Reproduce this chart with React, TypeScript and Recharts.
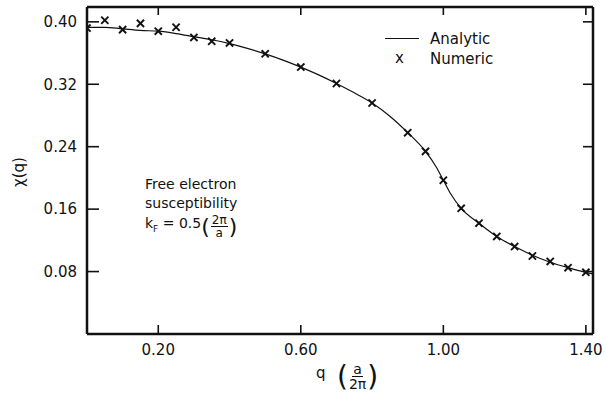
import React from 'react';
import { ComposedChart, Line, Scatter, XAxis, YAxis } from 'recharts';

// analytic curve
const analyticQ = [0, 0.05, 0.1, 0.15, 0.2, 0.25, 0.3, 0.35, 0.4, 0.45, 0.5, 0.55, 0.6, 0.65, 0.7, 0.75, 0.8, 0.85, 0.9, 0.95, 0.98, 1.0, 1.02, 1.05, 1.1, 1.15, 1.2, 1.25, 1.3, 1.35, 1.4, 1.42];
const analyticChi = [0.393, 0.393, 0.391, 0.389, 0.388, 0.385, 0.381, 0.377, 0.372, 0.366, 0.359, 0.351, 0.342, 0.332, 0.321, 0.309, 0.296, 0.279, 0.258, 0.234, 0.214, 0.197, 0.18, 0.161, 0.142, 0.125, 0.112, 0.101, 0.092, 0.085, 0.079, 0.077];

// numeric points (x markers)
const numericQ = [0, 0.05, 0.1, 0.15, 0.2, 0.25, 0.3, 0.35, 0.4, 0.5, 0.6, 0.7, 0.8, 0.9, 0.95, 1.0, 1.05, 1.1, 1.15, 1.2, 1.25, 1.3, 1.35, 1.4];
const numericChi = [0.392, 0.402, 0.39, 0.398, 0.388, 0.393, 0.38, 0.375, 0.373, 0.359, 0.342, 0.321, 0.296, 0.258, 0.234, 0.197, 0.161, 0.142, 0.125, 0.112, 0.1, 0.093, 0.085, 0.079];

const xTicks = [0.2, 0.6, 1.0, 1.4];
const yTicks = [0.08, 0.16, 0.24, 0.32, 0.4];
const xDomain: [number, number] = [0, 1.42];
const yDomain: [number, number] = [0, 0.419];

const analytic = analyticQ.map((q, i) => ({ q, chi: analyticChi[i] }));
const numeric = numericQ.map((q, i) => ({ q, chi: numericChi[i] }));

const FONT = '"DejaVu Sans", sans-serif';
const INK = '#111';
const PLOT_H = 327; // chart height minus top/bottom axis bands (396 - 7 - 62)

const Cross = (props: any) => {
    const { cx, cy } = props;
    const r = 3.6;
    return (
        <g stroke={INK} strokeWidth={1.9}>
            <line x1={cx - r} y1={cy - r} x2={cx + r} y2={cy + r} />
            <line x1={cx - r} y1={cy + r} x2={cx + r} y2={cy - r} />
        </g>
    );
};

// inward tick marks: the axes use tickSize 0, so the tick props sit at axis + tickMargin.
// the bottom tick also draws the matching mark under the top frame line
const BottomTick = (props: any) => {
    const { x, y, payload } = props;
    const axisY = y - 10;
    return (
        <g>
            <line x1={x} x2={x} y1={axisY} y2={axisY - 9} stroke={INK} strokeWidth={1.6} />
            <line x1={x} x2={x} y1={axisY - PLOT_H} y2={axisY - PLOT_H + 8} stroke={INK} strokeWidth={1.6} />
            <text x={x} y={y} dy="0.71em" textAnchor="middle" fill={INK} fontSize={15} fontFamily={FONT}>
                {payload.value.toFixed(2)}
            </text>
        </g>
    );
};

const LeftTick = (props: any) => {
    const { x, y, payload } = props;
    return (
        <g>
            <line x1={x + 10} x2={x + 22} y1={y} y2={y} stroke={INK} strokeWidth={1.6} />
            <text x={x} y={y} dy="0.355em" textAnchor="end" fill={INK} fontSize={15} fontFamily={FONT}>
                {payload.value.toFixed(2)}
            </text>
        </g>
    );
};

const RightTick = (props: any) => (
    <line x1={props.x} x2={props.x - 10} y1={props.y} y2={props.y} stroke={INK} strokeWidth={1.6} />
);

const Frac = ({ top, bottom, size }: { top: string; bottom: string; size: number }) => (
    <span style={{ display: 'inline-flex', flexDirection: 'column', alignItems: 'center', fontSize: size, lineHeight: 1, margin: '0 1px' }}>
        <span style={{ borderBottom: `1.5px solid ${INK}`, padding: '0 1px' }}>{top}</span>
        <span>{bottom}</span>
    </span>
);

const abs = (left: number, top: number, extra: React.CSSProperties = {}): React.CSSProperties => ({
    position: 'absolute', left, top, fontFamily: FONT, color: INK, whiteSpace: 'nowrap', ...extra
});

export default function App() {
    const axisLine = { stroke: INK, strokeWidth: 2.5 };

    return (
        <div style={{ position: 'absolute', left: 0, top: 0, width: 605, height: 396, background: '#fff' }}>
            <ComposedChart width={605} height={396} margin={{ top: 0, right: 0, bottom: 0, left: 0 }}>
                <XAxis xAxisId="bottom" dataKey="q" type="number" domain={xDomain} ticks={xTicks}
                    allowDataOverflow height={62} tickSize={0} tickMargin={10}
                    axisLine={axisLine} tickLine={false} tick={<BottomTick />} />
                <XAxis xAxisId="top" dataKey="q" orientation="top" type="number" domain={xDomain} ticks={xTicks}
                    allowDataOverflow height={7} tickSize={0} tickMargin={0}
                    axisLine={axisLine} tickLine={false} tick={false} />
                <YAxis yAxisId="left" type="number" domain={yDomain} ticks={yTicks}
                    allowDataOverflow width={87} tickSize={0} tickMargin={10}
                    axisLine={axisLine} tickLine={false} tick={<LeftTick />} />
                <YAxis yAxisId="right" orientation="right" type="number" domain={yDomain} ticks={yTicks}
                    allowDataOverflow width={12} tickSize={0} tickMargin={0}
                    axisLine={axisLine} tickLine={false} tick={<RightTick />} />
                <Line xAxisId="bottom" yAxisId="left" data={analytic} dataKey="chi" type="monotone"
                    stroke={INK} strokeWidth={1.2} dot={false} isAnimationActive={false} />
                <Scatter xAxisId="bottom" yAxisId="left" data={numeric} dataKey="chi"
                    shape={<Cross />} isAnimationActive={false} />
            </ComposedChart>

            {/* legend */}
            <div style={abs(385, 38, { width: 34, borderTop: `1.2px solid ${INK}` })} />
            <div style={abs(430, 30, { fontSize: 15, lineHeight: '18px' })}>Analytic</div>
            <div style={abs(395, 49, { fontSize: 15, lineHeight: '18px' })}>x</div>
            <div style={abs(430, 50, { fontSize: 15, lineHeight: '18px' })}>Numeric</div>

            {/* annotation */}
            <div style={abs(145, 175, { fontSize: 14, lineHeight: '19px' })}>
                <div>Free electron</div>
                <div>susceptibility</div>
                <div style={{ display: 'flex', alignItems: 'center', marginTop: 1 }}>
                    <span>k<sub style={{ fontSize: 9 }}>F</sub> = 0.5</span>
                    <span style={{ fontSize: 22, lineHeight: 1 }}>(</span>
                    <Frac top="2π" bottom="a" size={12} />
                    <span style={{ fontSize: 22, lineHeight: 1 }}>)</span>
                </div>
            </div>

            {/* axis titles */}
            <div style={abs(0, 163, { fontSize: 15, lineHeight: '18px', width: 38, textAlign: 'center', transform: 'rotate(-90deg)' })}>χ(q)</div>
            <div style={abs(316, 364, { fontSize: 15, lineHeight: '18px' })}>q</div>
            <div style={abs(337, 362, { fontSize: 15, display: 'flex', alignItems: 'center' })}>
                <span style={{ fontSize: 28, lineHeight: 1 }}>(</span>
                <Frac top="a" bottom="2π" size={14} />
                <span style={{ fontSize: 28, lineHeight: 1 }}>)</span>
            </div>
        </div>
    );
}
